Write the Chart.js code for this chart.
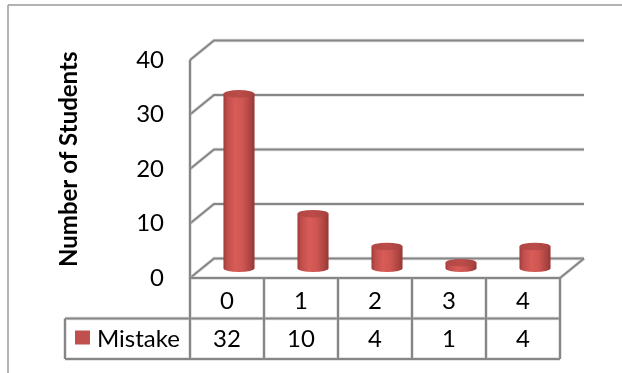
<!DOCTYPE html>
<html>
<head>
<meta charset="utf-8">
<script src="https://cdn.jsdelivr.net/npm/chart.js@4.4.1/dist/chart.umd.min.js"></script>
<style>
  html, body { margin: 0; padding: 0; background: #ffffff; }
  canvas { display: block; }
</style>
</head>
<body>
<canvas id="chart" width="622" height="373"></canvas>
<script>
// Data
const categories = ['0', '1', '2', '3', '4'];
const mistakeCounts = [32, 10, 4, 1, 4];
const seriesName = 'Mistake';
const yTickValues = [0, 10, 20, 30, 40];
const axisTitle = 'Number of Students';

// Styling
const FONT = 'Lato, "Open Sans", sans-serif';
const FONT_SIZE = 24;
const LINE_COLOR = '#868686';
const BAR_COLOR = '#c0504d';
const DEPTH_X = 24;     // back wall shift to the right
const DEPTH_Y = -19.5;  // back wall shift upward

function seg(ctx, x1, y1, x2, y2) {
  ctx.beginPath();
  ctx.moveTo(x1, y1);
  ctx.lineTo(x2, y2);
  ctx.stroke();
}

function softLine(ctx, pts) {
  ctx.save();
  ctx.lineJoin = 'miter';
  ctx.strokeStyle = 'rgba(180,180,180,0.45)';
  ctx.lineWidth = 3.5;
  ctx.beginPath();
  pts.forEach((p, i) => i ? ctx.lineTo(p[0], p[1]) : ctx.moveTo(p[0], p[1]));
  ctx.stroke();
  ctx.strokeStyle = LINE_COLOR;
  ctx.lineWidth = 2;
  ctx.beginPath();
  pts.forEach((p, i) => i ? ctx.lineTo(p[0], p[1]) : ctx.moveTo(p[0], p[1]));
  ctx.stroke();
  ctx.restore();
}

// Walls, floor and gridlines of the 3D frame
const wallsPlugin = {
  id: 'walls',
  beforeDatasetsDraw(chart) {
    const ctx = chart.ctx;
    const { left, right } = chart.chartArea;
    const y = chart.scales.y;
    ctx.save();
    // outer chart frame
    ctx.strokeStyle = '#9a9a9a';
    ctx.lineWidth = 1.5;
    seg(ctx, 8, 5, 8, 373);
    seg(ctx, 8, 5, 622, 5);

    // floor
    const y0 = y.getPixelForValue(0);
    ctx.fillStyle = '#ffffff';
    ctx.beginPath();
    ctx.moveTo(left, y0);
    ctx.lineTo(left + DEPTH_X, y0 + DEPTH_Y);
    ctx.lineTo(right + DEPTH_X, y0 + DEPTH_Y);
    ctx.lineTo(right, y0);
    ctx.closePath();
    ctx.fill();

    // gridlines: side wall diagonal + back wall horizontal
    yTickValues.forEach(v => {
      const py = y.getPixelForValue(v);
      softLine(ctx, [[left, py], [left + DEPTH_X, py + DEPTH_Y], [right + DEPTH_X, py + DEPTH_Y]]);
    });
    // front left edge of the side wall
    softLine(ctx, [[left, y.getPixelForValue(40)], [left, y0]]);
    // floor right edge
    softLine(ctx, [[right + DEPTH_X, y0 + DEPTH_Y], [right, y0]]);

    // axis title, centred on the full 3D plot box
    const yTop = y.getPixelForValue(40) + DEPTH_Y;
    ctx.translate(69, (yTop + y0) / 2);
    ctx.rotate(-Math.PI / 2);
    ctx.fillStyle = '#000000';
    ctx.font = 'bold ' + FONT_SIZE + 'px ' + FONT;
    ctx.textAlign = 'center';
    ctx.textBaseline = 'middle';
    ctx.fillText(axisTitle, 0, 0);
    ctx.restore();
  }
};

// Cylinders drawn at mid depth from the bar elements
const cylinderPlugin = {
  id: 'cylinders',
  afterDatasetsDraw(chart) {
    const ctx = chart.ctx;
    const meta = chart.getDatasetMeta(0);
    const dx = DEPTH_X / 2, dy = DEPTH_Y / 2;
    ctx.save();
    meta.data.forEach(bar => {
      const { x, y, base, width } = bar.getProps(['x', 'y', 'base', 'width'], true);
      const cx = x + dx;
      const top = y + dy;
      const bot = base + dy;
      const rx = width / 2;
      const ry = 3.8;
      const l = cx - rx, r = cx + rx;

      const grad = ctx.createLinearGradient(l, 0, r, 0);
      grad.addColorStop(0, '#9c3c39');
      grad.addColorStop(0.12, '#c04e4b');
      grad.addColorStop(0.38, '#d85c58');
      grad.addColorStop(0.62, '#ce5652');
      grad.addColorStop(0.88, '#ab4340');
      grad.addColorStop(1, '#913734');

      // body with rounded bottom
      ctx.fillStyle = grad;
      ctx.beginPath();
      ctx.moveTo(l, top);
      ctx.lineTo(l, bot);
      ctx.ellipse(cx, bot, rx, ry, 0, Math.PI, 0, true);
      ctx.lineTo(r, top);
      ctx.closePath();
      ctx.fill();

      // top cap
      const capGrad = ctx.createLinearGradient(l, 0, r, 0);
      capGrad.addColorStop(0, '#b04744');
      capGrad.addColorStop(0.5, '#bb4c49');
      capGrad.addColorStop(1, '#a5423f');
      ctx.fillStyle = capGrad;
      ctx.beginPath();
      ctx.ellipse(cx, top, rx, ry, 0, 0, Math.PI * 2);
      ctx.fill();
    });
    ctx.restore();
  }
};

// Data table below the plot
const tablePlugin = {
  id: 'dataTable',
  afterDraw(chart) {
    const ctx = chart.ctx;
    const { left, right, bottom } = chart.chartArea;
    const xs = chart.scales.x;
    const rowH = 40.5;
    const r1 = bottom, r2 = bottom + rowH, r3 = bottom + rowH * 2;
    const legendLeft = 65;
    ctx.save();

    // grid of the table
    softLine(ctx, [[left, r1], [right, r1]]);
    softLine(ctx, [[legendLeft, r2], [right, r2]]);
    softLine(ctx, [[legendLeft, r3], [right, r3]]);
    softLine(ctx, [[legendLeft, r2], [legendLeft, r3]]);
    const step = (right - left) / categories.length;
    for (let i = 0; i <= categories.length; i++) {
      const px = left + step * i;
      softLine(ctx, [[px, r1], [px, r3]]);
    }

    // values row
    ctx.fillStyle = '#000000';
    ctx.font = FONT_SIZE + 'px ' + FONT;
    ctx.textAlign = 'center';
    ctx.textBaseline = 'middle';
    const ds = chart.data.datasets[0];
    ds.data.forEach((v, i) => {
      ctx.fillText(String(v), xs.getPixelForValue(i), (r2 + r3) / 2 + 1);
    });

    // legend key
    ctx.fillStyle = BAR_COLOR;
    ctx.fillRect(75, r2 + 12, 15, 14);
    ctx.fillStyle = '#000000';
    ctx.textAlign = 'left';
    ctx.fillText(ds.label, 97, (r2 + r3) / 2 + 1);
    ctx.restore();
  }
};

new Chart(document.getElementById('chart'), {
  type: 'bar',
  data: {
    labels: categories,
    datasets: [{
      label: seriesName,
      data: mistakeCounts,
      backgroundColor: 'rgba(0,0,0,0)',
      borderWidth: 0,
      categoryPercentage: 1,
      barPercentage: 0.42
    }]
  },
  options: {
    responsive: false,
    animation: false,
    events: [],
    layout: { padding: { left: 0, top: 60, right: 62, bottom: 14 } },
    plugins: { legend: { display: false }, tooltip: { enabled: false } },
    scales: {
      x: {
        type: 'category',
        grid: { display: false, drawTicks: false },
        border: { display: false },
        ticks: { color: '#000', font: { family: FONT, size: FONT_SIZE }, padding: 9 },
        afterFit(scale) { scale.height = 81; }
      },
      y: {
        min: 0,
        max: 40,
        grid: { display: false, drawTicks: false },
        border: { display: false },
        afterBuildTicks(scale) { scale.ticks = yTickValues.map(v => ({ value: v })); },
        ticks: { color: '#000', font: { family: FONT, size: FONT_SIZE }, padding: 26 },
        afterFit(scale) { scale.width = 190; }
      }
    }
  },
  plugins: [wallsPlugin, cylinderPlugin, tablePlugin]
});
</script>
</body>
</html>
